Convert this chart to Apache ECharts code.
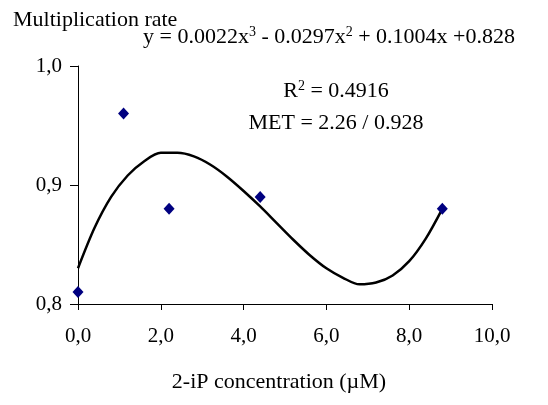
<!DOCTYPE html>
<html><head><meta charset="utf-8">
<script src="https://cdn.jsdelivr.net/npm/echarts@6/dist/echarts.min.js"></script>
<style>html,body{margin:0;padding:0;background:#fff}#c{width:548px;height:405px}</style>
</head><body><div id="c"></div>
<script>
// Observed data points
const pointX = [0, 1.1, 2.2, 4.4, 8.8];
const pointY = [0.81, 0.96, 0.88, 0.89, 0.88];
// Trend curve
const curveX = [0, 0.4, 0.8, 1.2, 1.6, 2.0, 2.4, 2.8, 3.2, 3.6, 4.0, 4.4, 4.8, 5.2, 5.6, 6.0, 6.4, 6.8, 7.2, 7.6, 8.0, 8.4, 8.8];
const curveY = [0.830, 0.864, 0.890, 0.908, 0.920, 0.927, 0.927, 0.924, 0.917, 0.907, 0.895, 0.882, 0.868, 0.854, 0.841, 0.830, 0.822, 0.8165, 0.818, 0.824, 0.836, 0.855, 0.880];
// Tick labels
const xTicks = [0, 2, 4, 6, 8, 10];
const xTickLabels = ['0,0', '2,0', '4,0', '6,0', '8,0', '10,0'];
const yTicks = [0.8, 0.9, 1.0];
const yTickLabels = ['0,8', '0,9', '1,0'];
const yName = 'Multiplication rate';
const xName = '2-iP concentration (µM)';
const eqLines = ['y = 0.0022x{s|3} - 0.0297x{s|2} + 0.1004x +0.828', 'R{s|2} = 0.4916', 'MET = 2.26 / 0.928'];

const F = '"Liberation Serif", "Times New Roman", serif';
const chart = echarts.init(document.getElementById('c'), null, {renderer: 'canvas'});
function lab(v, ticks, labels) {
  for (let i = 0; i < ticks.length; i++) if (Math.abs(v - ticks[i]) < 1e-6) return labels[i];
  return '';
}
const rich = {s: {fontFamily: F, fontSize: 14, color: '#000', verticalAlign: 'top', padding: [0, 0, 10, 0]}};
const ts = {fontFamily: F, fontSize: 22, fontWeight: 'normal', color: '#000', rich: rich};
chart.setOption({
  animation: false,
  backgroundColor: '#fff',
  grid: {left: 78, right: 56, top: 66, bottom: 101, containLabel: false},
  title: [
    {text: yName, left: 8, top: 4, textStyle: ts},
    {text: eqLines[0], left: 324, top: 20, textAlign: 'center', textStyle: ts},
    {text: eqLines[1], left: 331, top: 74, textAlign: 'center', textStyle: ts},
    {text: eqLines[2], left: 331, top: 107, textAlign: 'center', textStyle: ts},
    {text: xName, left: 274, top: 366, textAlign: 'center', textStyle: ts}
  ],
  xAxis: {
    type: 'value', min: 0, max: 10, interval: 2,
    axisLine: {show: true, onZero: false, lineStyle: {color: '#000', width: 1}},
    axisTick: {show: true, length: 6, inside: false, lineStyle: {color: '#000'}},
    splitLine: {show: false},
    axisLabel: {margin: 22, fontFamily: F, fontSize: 21, color: '#000', formatter: v => lab(v, xTicks, xTickLabels)}
  },
  yAxis: {
    type: 'value', min: 0.8, max: 1.0, interval: 0.1,
    axisLine: {show: true, onZero: false, lineStyle: {color: '#000', width: 1}},
    axisTick: {show: true, length: 8, inside: false, lineStyle: {color: '#000'}},
    splitLine: {show: false},
    axisLabel: {margin: 16, fontFamily: F, fontSize: 21, color: '#000', formatter: v => lab(v, yTicks, yTickLabels)}
  },
  series: [
    {type: 'line', data: curveX.map((x, i) => [x, curveY[i]]), smooth: 0.3, showSymbol: false, symbol: 'none',
     lineStyle: {color: '#000', width: 2.5}, z: 2},
    {type: 'scatter', data: pointX.map((x, i) => [x, pointY[i]]), symbol: 'diamond', symbolSize: [11, 12],
     itemStyle: {color: '#000080', opacity: 1}, z: 3}
  ]
});
</script></body></html>
